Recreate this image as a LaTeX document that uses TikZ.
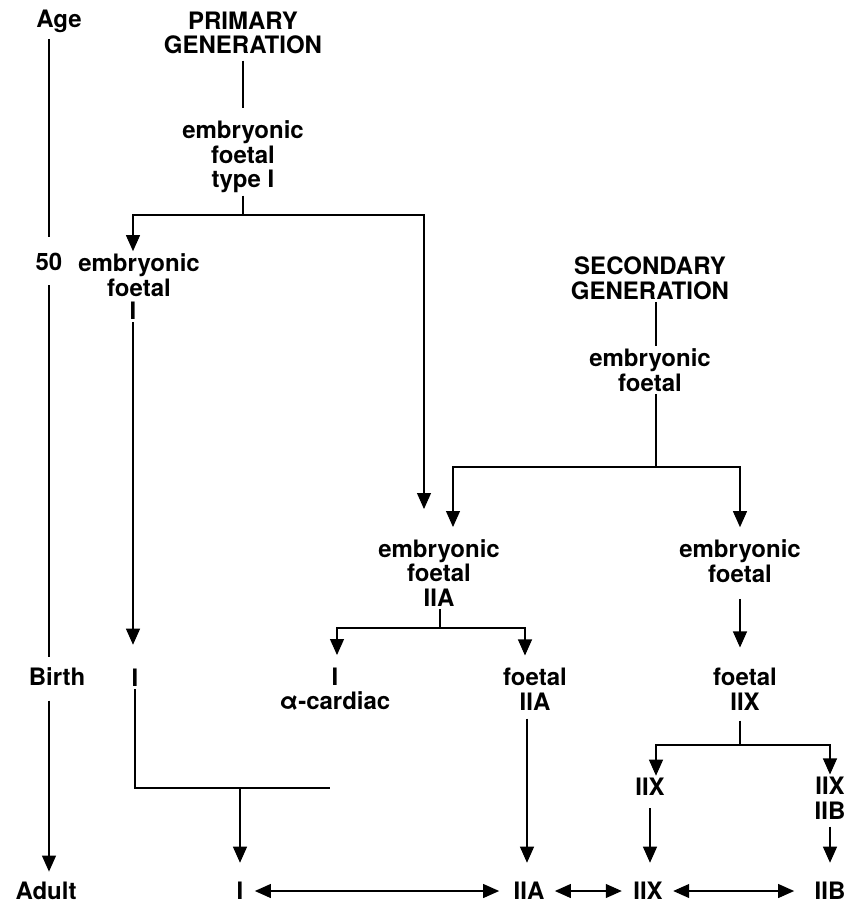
\documentclass[tikz,border=0pt]{standalone}
\usepackage{fontspec}
\setmainfont{TeX Gyre Heros}
\usetikzlibrary{arrows.meta,positioning}

\begin{document}
\begin{tikzpicture}[x=1pt, y=1pt, line width=1.1pt, node distance=124pt,
	>={Triangle[length=16pt,width=14pt]},
	every node/.style={font=\fontsize{24}{24.5}\selectfont\bfseries, align=center, inner sep=2pt}]
	\useasboundingbox (0,0) rectangle (846,-906);
	% age axis
	\coordinate (ax) at (49,0);
	\node (age) at (59,-21) {Age};
	\node (fifty) at (49,-262) {50};
	\node (birth) at (57,-677) {Birth};
	\node (adult) at (46,-891) {Adult};
	% primary generation
	\node (pg) at (243,-33) {PRIMARY\\GENERATION};
	\node (pt) [below of=pg] {embryonic\\foetal\\type I};
	\node (e1) at (139,-275) {embryonic\\foetal};
	\node (i1) at (133,-311) {I};
	% secondary generation
	\node (sg) at (650,-278) {SECONDARY\\GENERATION};
	\node (se) [node distance=92pt,below of=sg] {embryonic\\foetal};
	\node (ea) at (439,-573) {embryonic\\foetal\\IIA};
	\node (eb) at (740,-561) {embryonic\\foetal};
	% birth
	\node (ib) at (135,-678) {I};
	\node (ic) at (335,-689) {I\\α-cardiac};
	\node (fa) at (535,-689) {foetal\\IIA};
	\node (fx) at (745,-689) {foetal\\IIX};
	\node (x1) at (650,-787) {IIX};
	\node (xb) at (830,-798) {IIX\\IIB};
	% adult
	\node (a1) at (240,-891) {I};
	\node (a2) at (529,-891) {IIA};
	\node (a3) at (648,-891) {IIX};
	\node (a4) at (830,-891) {IIB};
	% junctions
	\coordinate (jp) at (243,-215);
	\coordinate (js) at (656,-467);
	\coordinate (ja) at (440,-628);
	\coordinate (jx) at (740,-745);
	\coordinate (be) at (330,-788);

	\draw[shorten <=4pt, shorten >=14pt] (ax |- age.south) -- (ax |- fifty.north);
	\draw[shorten <=12pt, shorten >=8pt] (ax |- fifty.south) -- (ax |- birth.north);
	\draw[->, shorten <=12pt, shorten >=8pt] (ax |- birth.south) -- (ax |- adult.north);

	\draw[shorten <=4pt, shorten >=10pt] (pg) -- (pt);
	\draw (pt) -- (jp);
	\draw[->] (jp) -| (i1 |- e1.north);
	\draw[->] (jp) -| ([xshift=-15pt,yshift=28pt]ea.north);
	\draw[->, shorten >=22pt] (i1) -- (i1 |- ib.north);

	\draw ([xshift=6pt]sg.south) -- ([xshift=6pt]se.north);
	\draw ([xshift=6pt]se.south) -- (js);
	\draw[->, shorten >=10pt] (js) -| ([xshift=14pt]ea.north);
	\draw[->, shorten >=10pt] (js) -| (eb.north);
	\draw (ea.south -| ja) -- (ja);
	\draw[->, shorten >=10pt] (ja) -| ([xshift=2pt]ic.north);
	\draw[->, shorten >=10pt] (ja) -| ([xshift=-4pt]a2 |- fa.north);
	\draw[->, shorten <=14pt, shorten >=18pt] (eb) -- (eb |- fx.north);

	\draw (ib) |- (be);
	\draw[->, shorten >=17pt] (a1 |- be) -- (a1);
	\draw[->, shorten <=6pt, shorten >=17pt] ([xshift=-2pt]a2 |- fa.south) -- ([xshift=-2pt]a2.north);
	\draw[shorten <=8pt] (fx.south -| jx) -- (jx);
	\draw[->] (jx) -| ([xshift=6pt]x1.north);
	\draw[->] (jx) -| (xb);
	\draw[->, shorten <=10pt, shorten >=17pt] (x1) -- (x1 |- a3.north);
	\draw[->, shorten <=5pt, shorten >=17pt] (xb) -- (a4);

	\draw[<->, shorten <=9pt, shorten >=12pt] (a1) -- (a2);
	\draw[<->, shorten <=8pt, shorten >=9pt] (a2) -- (a3);
	\draw[<->, shorten <=8pt, shorten >=18pt] (a3) -- (a4);
\end{tikzpicture}
\end{document}
